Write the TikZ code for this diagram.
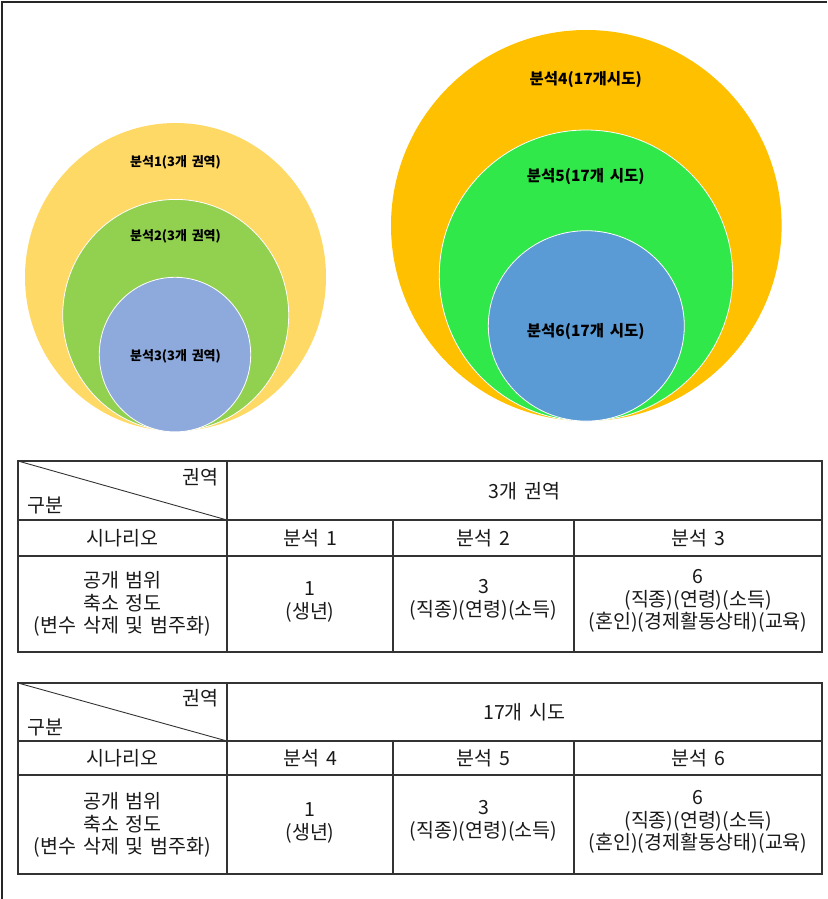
\documentclass[tikz,border=0pt]{standalone}
\usepackage{fontspec}
\setmainfont{Noto Sans CJK KR}
\newfontfamily\cellfont[WordSpace=1.7]{Noto Sans CJK KR}
\newfontfamily\labfont[WordSpace=1.6]{Noto Sans CJK KR}
\definecolor{cA}{HTML}{FFD966}
\definecolor{cB}{HTML}{92D050}
\definecolor{cC}{HTML}{8EA9DB}
\definecolor{cD}{HTML}{FFC000}
\definecolor{cE}{HTML}{30E84A}
\definecolor{cF}{HTML}{5B9BD5}
\definecolor{grid}{HTML}{333333}
\tikzset{
  clabS/.style={font=\labfont\bfseries\fontsize{13}{15}\selectfont, inner sep=0pt},
  clabL/.style={font=\labfont\bfseries\fontsize{15.5}{18}\selectfont, inner sep=0pt},
  cell/.style={font=\cellfont\fontsize{19.5}{22.5}\selectfont, align=center, inner sep=0pt, text=black!90},
  gridline/.style={draw=grid, line width=1.3pt},
  diag/.style={draw=grid, line width=0.9pt},
  ring/.style={draw=white, line width=0.8pt}
}
\begin{document}
\begin{tikzpicture}[x=1pt,y=-1pt]
\useasboundingbox (0,0) rectangle (827,899);
% frame
\draw[line width=2pt, draw=black!85] (2,899) -- (2,2) -- (827,2);
% left circles
\fill[cA] (175.5,277) ellipse [x radius=150.5pt, y radius=154pt];
\filldraw[fill=cB, ring] (175.7,315.2) ellipse [x radius=113pt, y radius=115.8pt];
\filldraw[fill=cC, ring] (175,354.6) ellipse [x radius=75.7pt, y radius=77.3pt];
\node[clabS] (l1) at (175.5,162) {분석1(3개 권역)};
\node[clabS] (l2) at (175.5,236.5) {분석2(3개 권역)};
\node[clabS] (l3) at (175.5,356) {분석3(3개 권역)};
% right circles
\fill[cD] (586.3,225.5) ellipse [x radius=195.3pt, y radius=195.5pt];
\filldraw[fill=cE, ring] (586,275.5) ellipse [x radius=146.7pt, y radius=145.5pt];
\filldraw[fill=cF, ring] (586.3,325.9) ellipse [x radius=98pt, y radius=95.2pt];
\node[clabL] (l4) at (585.7,80) {분석4(17개시도)};
\node[clabL] (l5) at (585.7,177) {분석5(17개 시도)};
\node[clabL] (l6) at (585.7,332) {분석6(17개 시도)};
% table 1
\draw[gridline] (18,461) rectangle (822,652);
\draw[gridline] (18,520) -- (822,520);
\draw[gridline] (18,556) -- (822,556);
\draw[gridline] (227,461) -- (227,652);
\draw[gridline] (393,520) -- (393,652);
\draw[gridline] (574,520) -- (574,652);
\draw[diag] (18,461) -- (227,520);
\node[cell, anchor=east] (a1) at (219,477) {권역};
\node[cell, anchor=west] (a2) at (27,505) {구분};
\node[cell] (a3) at (524.5,491) {3개 권역};
\node[cell] (a4) at (122.5,538) {시나리오};
\node[cell] (a5) at (310,538) {분석 1};
\node[cell] (a6) at (483.5,538) {분석 2};
\node[cell] (a7) at (698,538) {분석 3};
\node[cell] (a8) at (122.5,604) {공개 범위\\축소 정도\\(변수 삭제 및 범주화)};
\node[cell] (a9) at (310,602) {1\\(생년)};
\node[cell] (a10) at (483.5,600) {3\\(직종)(연령)(소득)};
\node[cell] (a11) at (698,601) {6\\(직종)(연령)(소득)\\(혼인)(경제활동상태)(교육)};
% table 2
\draw[gridline] (18,683) rectangle (822,874);
\draw[gridline] (18,741) -- (822,741);
\draw[gridline] (18,775) -- (822,775);
\draw[gridline] (227,683) -- (227,874);
\draw[gridline] (393,741) -- (393,874);
\draw[gridline] (574,741) -- (574,874);
\draw[diag] (18,683) -- (227,741);
\node[cell, anchor=east] (b1) at (219,698) {권역};
\node[cell, anchor=west] (b2) at (27,727) {구분};
\node[cell] (b3) at (524.5,712) {17개 시도};
\node[cell] (b4) at (122.5,758) {시나리오};
\node[cell] (b5) at (310,758) {분석 4};
\node[cell] (b6) at (483.5,758) {분석 5};
\node[cell] (b7) at (698,758) {분석 6};
\node[cell] (b8) at (122.5,825) {공개 범위\\축소 정도\\(변수 삭제 및 범주화)};
\node[cell] (b9) at (310,823) {1\\(생년)};
\node[cell] (b10) at (483.5,821) {3\\(직종)(연령)(소득)};
\node[cell] (b11) at (698,822) {6\\(직종)(연령)(소득)\\(혼인)(경제활동상태)(교육)};
\end{tikzpicture}
\end{document}
